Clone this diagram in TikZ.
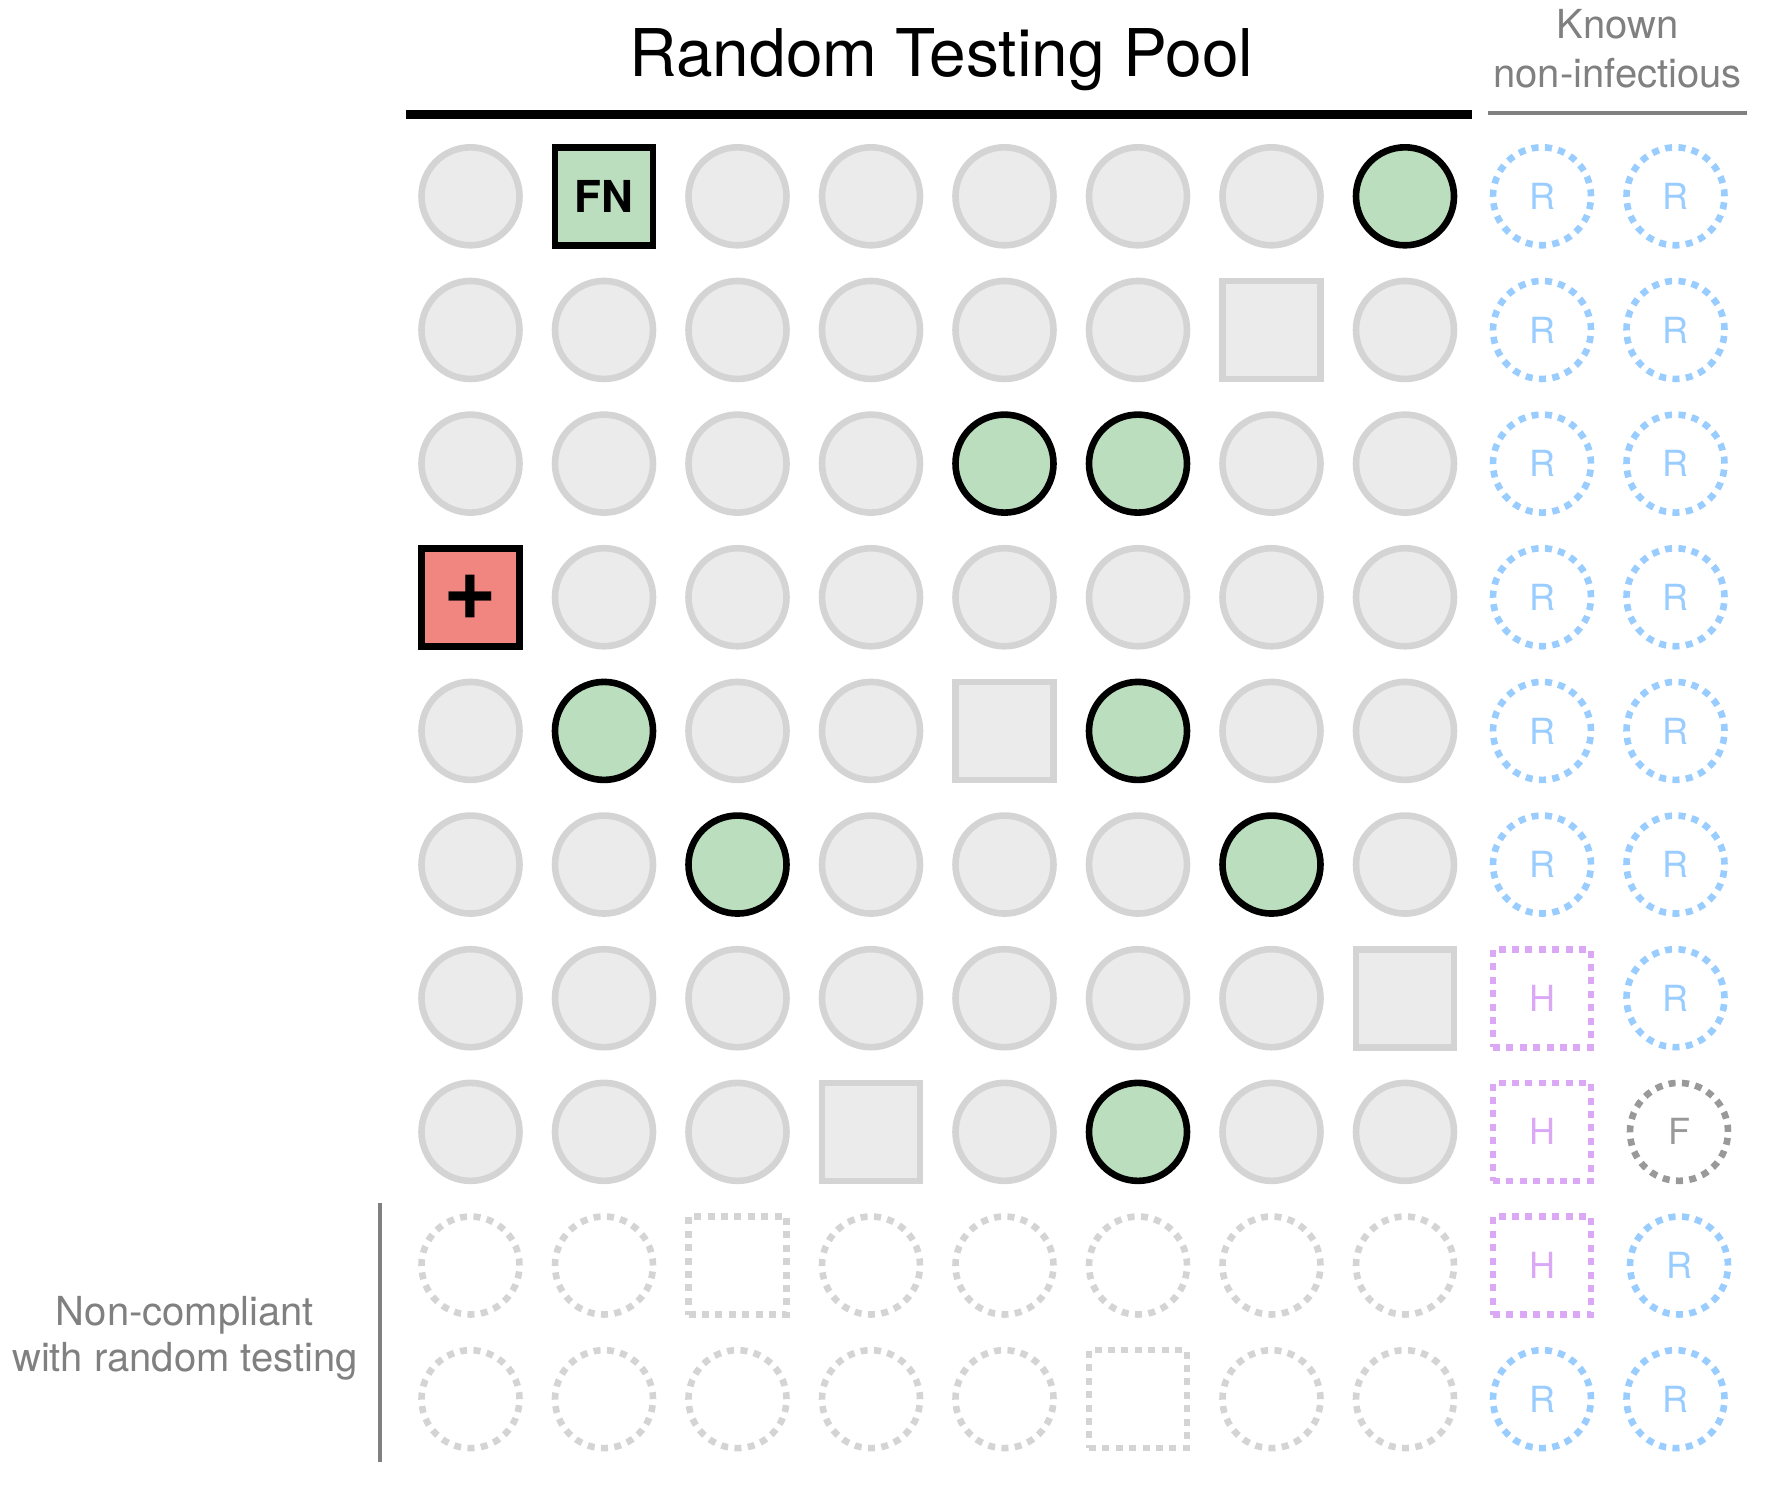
\documentclass[tikz,border=0pt]{standalone}
\usepackage{fontspec}
\setmainfont{TeX Gyre Heros}
\definecolor{poolfill}{RGB}{235,235,235}
\definecolor{poolline}{RGB}{212,212,212}
\definecolor{greenfill}{RGB}{187,222,190}
\definecolor{redfill}{RGB}{240,134,127}
\definecolor{blueR}{RGB}{153,204,255}
\definecolor{purpH}{RGB}{219,168,246}
\definecolor{grayF}{RGB}{153,153,153}
\definecolor{txtgray}{RGB}{128,128,128}
\def\txtkfn{FN}
\def\txtkplus{\fontsize{46}{46}\selectfont\bfseries +}
\def\txtkrc{R}
\def\txtkrcs{R}
\def\txtkhs{H}
\def\txtkfcs{F}
\begin{document}
\begin{tikzpicture}[x=0.5pt,y=-0.5pt,
  cellbase/.style={minimum size=49pt, inner sep=0pt, line width=3.3pt},
  dotpat/.style={dash pattern=on 3.5pt off 3.2pt},
  kpc/.style={cellbase, circle, draw=poolline, fill=poolfill},
  kps/.style={cellbase, rectangle, draw=poolline, fill=poolfill},
  kgc/.style={cellbase, circle, draw=black, fill=greenfill},
  kfn/.style={cellbase, rectangle, draw=black, fill=greenfill, font=\fontsize{22}{26}\selectfont\bfseries},
  kplus/.style={cellbase, rectangle, draw=black, fill=redfill},
  knc/.style={cellbase, circle, draw=poolline, dotpat},
  kns/.style={cellbase, rectangle, draw=poolline, dotpat},
  lab/.style={font=\fontsize{18}{20}\selectfont},
  krc/.style={cellbase, circle, draw=blueR, dotpat, text=blueR, lab},
  krcs/.style={krc, xshift=1.75pt},
  khs/.style={cellbase, rectangle, draw=purpH, dotpat, text=purpH, lab},
  kfcs/.style={cellbase, circle, draw=grayF, dotpat, text=grayF, lab, xshift=1.75pt},
  graytext/.style={text=txtgray, font=\fontsize{20}{24}\selectfont, inner sep=0pt}
]
\useasboundingbox (0,0) rectangle (1768,1490);

\foreach \r/\row in {
  0/{kpc,kfn,kpc,kpc,kpc,kpc,kpc,kgc,krc,krc},
  1/{kpc,kpc,kpc,kpc,kpc,kpc,kps,kpc,krc,krc},
  2/{kpc,kpc,kpc,kpc,kgc,kgc,kpc,kpc,krc,krc},
  3/{kplus,kpc,kpc,kpc,kpc,kpc,kpc,kpc,krc,krc},
  4/{kpc,kgc,kpc,kpc,kps,kgc,kpc,kpc,krc,krc},
  5/{kpc,kpc,kgc,kpc,kpc,kpc,kgc,kpc,krc,krc},
  6/{kpc,kpc,kpc,kpc,kpc,kpc,kpc,kps,khs,krc},
  7/{kpc,kpc,kpc,kps,kpc,kgc,kpc,kpc,khs,kfcs},
  8/{knc,knc,kns,knc,knc,knc,knc,knc,khs,krcs},
  9/{knc,knc,knc,knc,knc,kns,knc,knc,krc,krc}}{
  \foreach \s [count=\c from 0] in \row {
    \pgfmathsetmacro\xx{470.5+133.5*\c+(\c>7)*3.5}
    \pgfmathsetmacro\yy{196.3+133.65*\r}
    \node[\s] (p-\r-\c) at (\xx,\yy) {\csname txt\s\endcsname};
  }
}

% title and rules
\node[anchor=base, font=\fontsize{32.9}{38}\selectfont, inner sep=0pt] (title) at (941.5,76.7) {Random Testing Pool};
\coordinate (tl1) at (406,114);
\coordinate (tl2) at (1472,114);
\draw[line width=4.5pt] (tl1) -- (tl2);
\coordinate (kl1) at (1488,113);
\coordinate (kl2) at (1747,113);
\draw[line width=2pt, txtgray] (kl1) -- (kl2);

\node[graytext, anchor=base] (known1) at (1617.5,38.5) {Known};
\node[graytext, anchor=base] (known2) at (1617.5,87) {non-infectious};

% non-compliant
\coordinate (vl1) at (380,1203);
\coordinate (vl2) at (380,1462);
\draw[line width=1.75pt, txtgray] (vl1) -- (vl2);
\node[graytext, anchor=base] (nc1) at (185,1325) {Non-compliant};
\node[graytext, anchor=base] (nc2) at (185,1371.7) {with random testing};
\end{tikzpicture}
\end{document}
